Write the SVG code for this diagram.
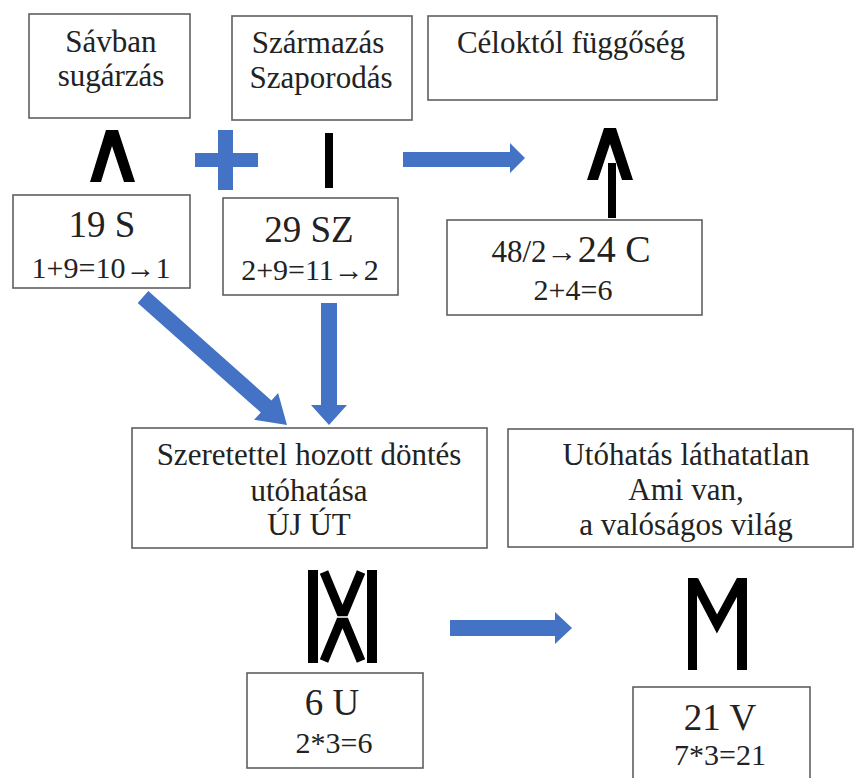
<svg xmlns="http://www.w3.org/2000/svg" width="854" height="778" viewBox="0 0 854 778">
<style>
.box{fill:#fff;stroke:#5f5f5f;stroke-width:1.6}
.t{font-family:'Liberation Serif','DejaVu Serif',serif;fill:#222;text-anchor:middle}
.lb{font-size:31px}
.big{font-size:37px}
.sm{font-size:30px}
.blue{fill:#4472C4}
.glyph{fill:#000}
.gs{fill:none;stroke:#000;stroke-width:9;stroke-linejoin:miter}
</style>
<rect width="854" height="778" fill="#fff"/>

<g id="connectors">
  <path class="blue" d="M403,152 H510 V143 L525,158 L510,173 V167 H403 Z"/>
  <polygon class="blue" points="148.3,291 271.4,400.4 278.1,393 287,425 254.1,419.8 260.8,412.4 137.7,303"/>
  <path class="blue" d="M321,303 H337 V405 H347 L329,425 L311,405 H321 Z"/>
  <path class="blue" d="M450,620 H555 V612 L572,628 L555,644 V636 H450 Z"/>
</g>

<g id="plus">
  <rect class="blue" x="218" y="130" width="15" height="60"/>
  <rect class="blue" x="195" y="153" width="63" height="14"/>
</g>

<g id="node-savban">
  <rect class="box" x="29" y="14" width="161" height="104"/>
  <text class="t lb" x="111" y="52">Sávban</text>
  <text class="t lb" x="111" y="86">sugárzás</text>
</g>

<g id="node-szarmazas">
  <rect class="box" x="232" y="16" width="180" height="104"/>
  <text class="t lb" x="318" y="53">Származás</text>
  <text class="t lb" x="321" y="88">Szaporodás</text>
</g>

<g id="node-celoktol">
  <rect class="box" x="428" y="16" width="289" height="84"/>
  <text class="t lb" x="571" y="53">Céloktól függőség</text>
</g>

<g id="glyph-s">
  <polygon class="glyph" points="90,182 106,130 118,130 135,182 124,182 112,146 101,182"/>
</g>

<g id="glyph-sz">
  <rect class="glyph" x="325" y="133" width="8" height="55"/>
</g>

<g id="glyph-c">
  <polygon class="glyph" points="587,180 604,128 616,128 633,180 622,180 610,144 598,180"/>
  <rect class="glyph" x="608" y="163" width="8" height="55"/>
</g>

<g id="node-19s">
  <rect class="box" x="13" y="195" width="177" height="93"/>
  <text class="t big" x="102" y="237">19 S</text>
  <text class="t sm" x="101" y="278">1+9=10→1</text>
</g>

<g id="node-29sz">
  <rect class="box" x="223" y="198" width="175" height="97"/>
  <text class="t big" x="309" y="242">29 SZ</text>
  <text class="t sm" x="310" y="280">2+9=11→2</text>
</g>

<g id="node-24c">
  <rect class="box" x="447" y="220" width="255" height="95"/>
  <text class="t" x="571" y="262"><tspan font-size="31">48/2→</tspan><tspan font-size="38">24 C</tspan></text>
  <text class="t sm" x="573" y="300">2+4=6</text>
</g>

<g id="node-szeretettel">
  <rect class="box" x="132" y="428" width="355" height="120"/>
  <text class="t lb" x="309" y="465">Szeretettel hozott döntés</text>
  <text class="t lb" x="309" y="501">utóhatása</text>
  <text class="t lb" x="309" y="535">ÚJ ÚT</text>
</g>

<g id="node-utohatas">
  <rect class="box" x="508" y="429" width="345" height="118"/>
  <text class="t lb" x="686" y="465">Utóhatás láthatatlan</text>
  <text class="t lb" x="686" y="500">Ami van,</text>
  <text class="t lb" x="686" y="535">a valóságos világ</text>
</g>

<g id="glyph-u">
  <rect class="glyph" x="308" y="570" width="10" height="93"/>
  <rect class="glyph" x="367" y="570" width="10" height="93"/>
  <path class="gs" d="M324,572 L361,661 M361,572 L324,661"/>
  <line x1="334" y1="617" x2="351" y2="617" stroke="#fff" stroke-width="1.5"/>
</g>

<g id="glyph-v">
  <rect class="glyph" x="688" y="578" width="9" height="92"/>
  <rect class="glyph" x="737" y="578" width="10" height="92"/>
  <polyline class="gs" points="694,580 717,624 741,580"/>
</g>

<g id="node-6u">
  <rect class="box" x="247" y="673" width="176" height="95"/>
  <text class="t big" x="332" y="715">6 U</text>
  <text class="t sm" x="334" y="753">2*3=6</text>
</g>

<g id="node-21v">
  <rect class="box" x="633" y="687" width="177" height="100"/>
  <text class="t big" x="720" y="730">21 V</text>
  <text class="t sm" x="720" y="765">7*3=21</text>
</g>
</svg>
